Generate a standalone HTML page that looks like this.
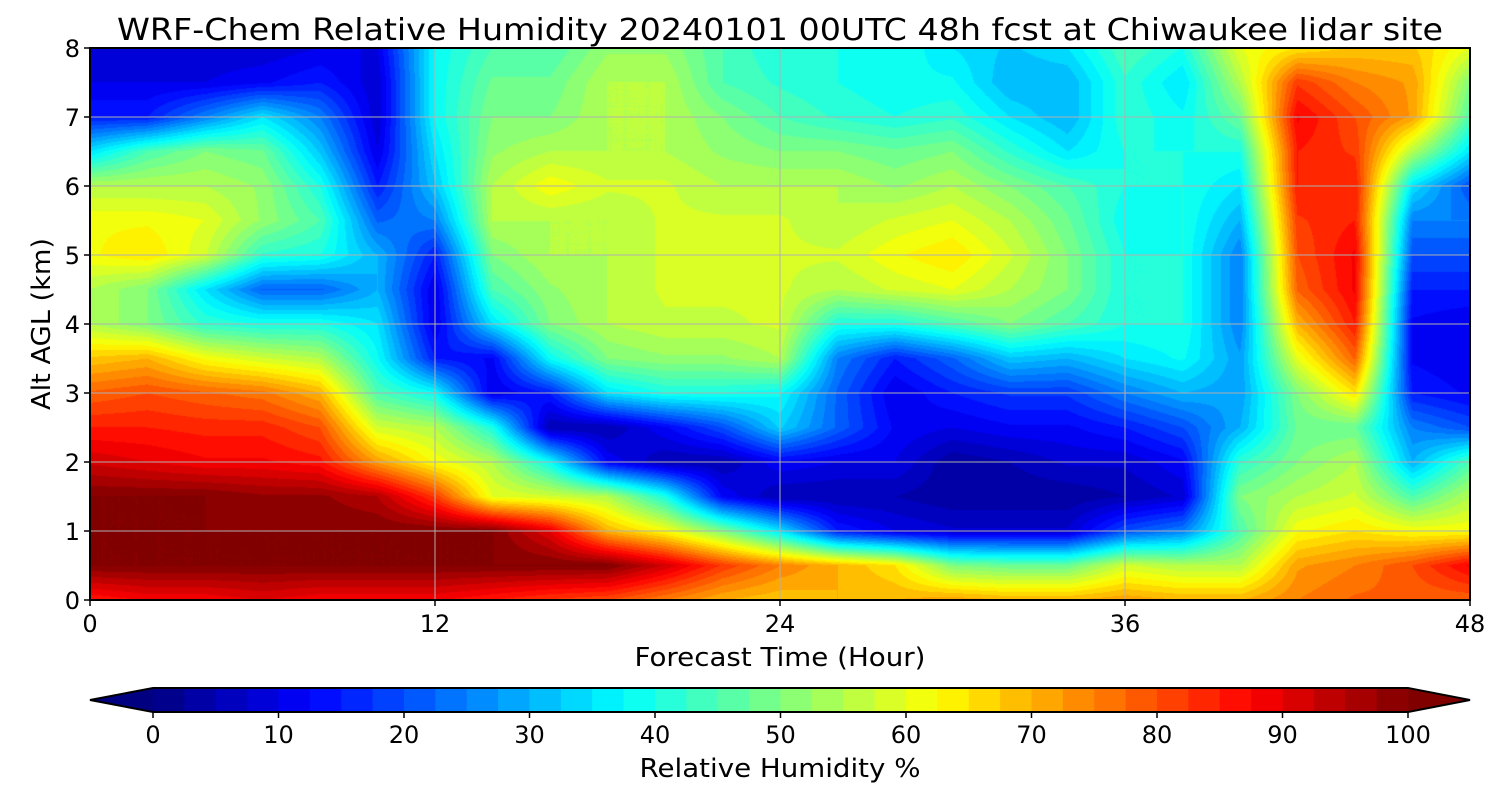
<!DOCTYPE html>
<html><head><meta charset="utf-8">
<style>
body{margin:0;background:#fff;font-family:"DejaVu Sans","Liberation Sans",sans-serif;}
#wrap{position:relative;width:1500px;height:800px;overflow:hidden;}
canvas{position:absolute;}
svg{position:absolute;left:0;top:0;}
</style></head><body>
<div id="wrap">
<canvas id="plot" width="1380" height="552" style="left:90px;top:48px"></canvas>
<svg id="svg" width="1500" height="800"></svg>
</div>
<script>
const hours=[0,2,4,6,8,10,12,14,16,18,20,22,24,26,28,30,32,34,36,38,40,42,44,46,48];
const heights=[0,0.5,1,1.5,2,2.5,3,3.5,4,4.5,5,5.5,6,6.5,7,7.5,8];
const rh=[
[85,100,100,100,92,85,78,68,55,55,62,62,55,35,15,10,10],
[88,100,100,100,90,85,80,70,50,50,65,62,55,45,15,10,8],
[88,100,100,100,88,84,78,62,42,35,58,60,55,50,25,10,8],
[90,100,100,98,88,84,76,58,40,22,42,52,52,48,35,12,8],
[88,100,100,98,86,80,70,55,40,22,40,45,40,32,25,15,10],
[88,100,100,95,72,58,45,38,35,30,30,22,15,10,8,8,10],
[88,100,100,82,62,55,38,15,10,10,15,25,32,35,38,38,38],
[85,100,100,60,55,40,10,12,35,45,50,55,55,52,50,48,45],
[82,100,90,58,38,5,15,38,50,52,55,55,62,55,50,48,45],
[80,100,70,55,12,5,35,50,55,55,55,55,58,55,55,55,52],
[75,92,62,40,5,12,40,52,57,58,58,58,58,55,55,55,52],
[70,82,50,12,5,20,40,52,57,58,58,58,55,52,50,45,45],
[68,75,35,5,12,33,38,55,58,58,58,58,55,50,45,42,40],
[70,70,15,5,10,22,22,25,40,55,58,55,55,50,42,40,40],
[70,65,10,5,10,12,10,15,40,58,62,58,52,48,40,38,40],
[72,50,8,3,3,10,15,22,45,60,65,60,55,50,42,38,35],
[70,48,8,3,5,12,18,32,50,55,58,55,50,42,35,30,32],
[70,48,8,3,8,12,18,30,45,50,50,48,45,35,30,30,35],
[72,58,20,5,8,15,25,35,40,40,40,38,40,40,42,42,45],
[70,55,25,8,12,20,30,38,40,40,40,40,40,40,38,35,40],
[70,55,45,50,42,30,28,28,25,25,25,30,35,40,48,55,60],
[75,72,62,55,50,48,50,60,70,78,80,82,85,85,88,82,65],
[78,75,65,58,55,48,65,78,85,88,88,85,85,82,80,75,68],
[78,80,62,45,30,25,15,12,12,15,20,25,35,55,72,72,68],
[78,88,62,55,45,20,12,10,10,15,20,25,20,35,45,50,60]
];
const xTicks=[0,12,24,36,48];
const yTicks=[0,1,2,3,4,5,6,7,8];
const cbTicks=[0,10,20,30,40,50,60,70,80,90,100];

const PX=90,PY=48,PW=1380,PH=552;
const xs=h=>PX+h/48*PW, ys=k=>PY+PH-k/8*PH;
function jet(v){const x=Math.max(0,Math.min(1,v/100));
 const c=t=>Math.round(255*Math.max(0,Math.min(1,t)));
 return [c(1.5-Math.abs(4*x-3)),c(1.5-Math.abs(4*x-2)),c(1.5-Math.abs(4*x-1))];}
function quant(v){return Math.min(100,Math.floor(v/2.5)*2.5+1.25);}
function interp(arr,v){let i=0;while(i<arr.length-2&&v>arr[i+1])i++;return [i,(v-arr[i])/(arr[i+1]-arr[i])];}
const cv=document.getElementById('plot'),ctx=cv.getContext('2d');
const img=ctx.createImageData(PW,PH);
for(let py=0;py<PH;py++){const k=(PH-py-0.5)/PH*8;const [j,fy]=interp(heights,k);
 for(let px=0;px<PW;px++){const h=(px+0.5)/PW*48;const [i,fx]=interp(hours,h);
  const v=rh[i][j]*(1-fx)*(1-fy)+rh[i+1][j]*fx*(1-fy)+rh[i][j+1]*(1-fx)*fy+rh[i+1][j+1]*fx*fy;
  const c=jet(quant(v));const o=(py*PW+px)*4;img.data[o]=c[0];img.data[o+1]=c[1];img.data[o+2]=c[2];img.data[o+3]=255;}}
ctx.putImageData(img,0,0);

const svg=document.getElementById('svg'),NS='http://www.w3.org/2000/svg';
function el(t,a,txt){const e=document.createElementNS(NS,t);for(const k in a)e.setAttribute(k,a[k]);if(txt!==undefined)e.textContent=txt;svg.appendChild(e);return e;}
xTicks.forEach(t=>{if(t>0&&t<48){const g=el('line',{x1:xs(t),x2:xs(t),y1:PY,y2:PY+PH,stroke:'#b0b0b0','stroke-width':1});
 
 }});
yTicks.forEach(t=>{if(t>0&&t<8){const g=el('line',{x1:PX,x2:PX+PW,y1:ys(t),y2:ys(t),stroke:'#b0b0b0','stroke-width':1});
 
 }});
const fr=el('rect',{x:PX,y:PY,width:PW,height:PH,fill:'none',stroke:'#000','stroke-width':2});


xTicks.forEach(t=>{el('line',{x1:xs(t),x2:xs(t),y1:PY+PH,y2:PY+PH+6,stroke:'#000','stroke-width':1.5});
 const l=el('text',{x:xs(t),y:632,'font-size':24,'text-anchor':'middle'},t);
 
 });
yTicks.forEach(t=>{el('line',{x1:PX-6,x2:PX,y1:ys(t),y2:ys(t),stroke:'#000','stroke-width':1.5});
 const l=el('text',{x:80,y:ys(t)+9,'font-size':24,'text-anchor':'end'},t);
 
 });
let e;
e=el('text',{x:780,y:40,'font-size':30,'text-anchor':'middle',textLength:1326,lengthAdjust:'spacingAndGlyphs'},'WRF-Chem Relative Humidity 20240101 00UTC 48h fcst at Chiwaukee lidar site');

e=el('text',{x:780,y:666,'font-size':26,'text-anchor':'middle',textLength:291,lengthAdjust:'spacingAndGlyphs'},'Forecast Time (Hour)');

e=el('text',{x:50,y:324,'font-size':26,'text-anchor':'middle',transform:'rotate(-90 50 324)',textLength:172,lengthAdjust:'spacingAndGlyphs'},'Alt AGL (km)');

const CX0=153,CX1=1408,CY=688,CH=24;const cx=v=>CX0+v/100*(CX1-CX0);
for(let v=0;v<100;v+=2.5){const c=jet(v+1.25);
 const r=el('rect',{x:cx(v),y:CY,width:(CX1-CX0)/40+0.6,height:CH,fill:`rgb(${c})`});
 
 }
e=el('polygon',{points:`${CX0},${CY} ${CX0},${CY+CH} 90,${CY+CH/2}`,fill:`rgb(${jet(0)})`});

e=el('polygon',{points:`${CX1},${CY} ${CX1},${CY+CH} 1470,${CY+CH/2}`,fill:`rgb(${jet(100)})`});

e=el('polygon',{points:`90,${CY+CH/2} ${CX0},${CY} ${CX1},${CY} 1470,${CY+CH/2} ${CX1},${CY+CH} ${CX0},${CY+CH}`,fill:'none',stroke:'#000','stroke-width':2});

cbTicks.forEach(t=>{el('line',{x1:cx(t),x2:cx(t),y1:CY+CH,y2:CY+CH+6,stroke:'#000','stroke-width':1.5});
 const l=el('text',{x:cx(t),y:743,'font-size':24,'text-anchor':'middle'},t);
 
 });
e=el('text',{x:780,y:777,'font-size':26,'text-anchor':'middle',textLength:281,lengthAdjust:'spacingAndGlyphs'},'Relative Humidity %');

</script>
</body></html>
